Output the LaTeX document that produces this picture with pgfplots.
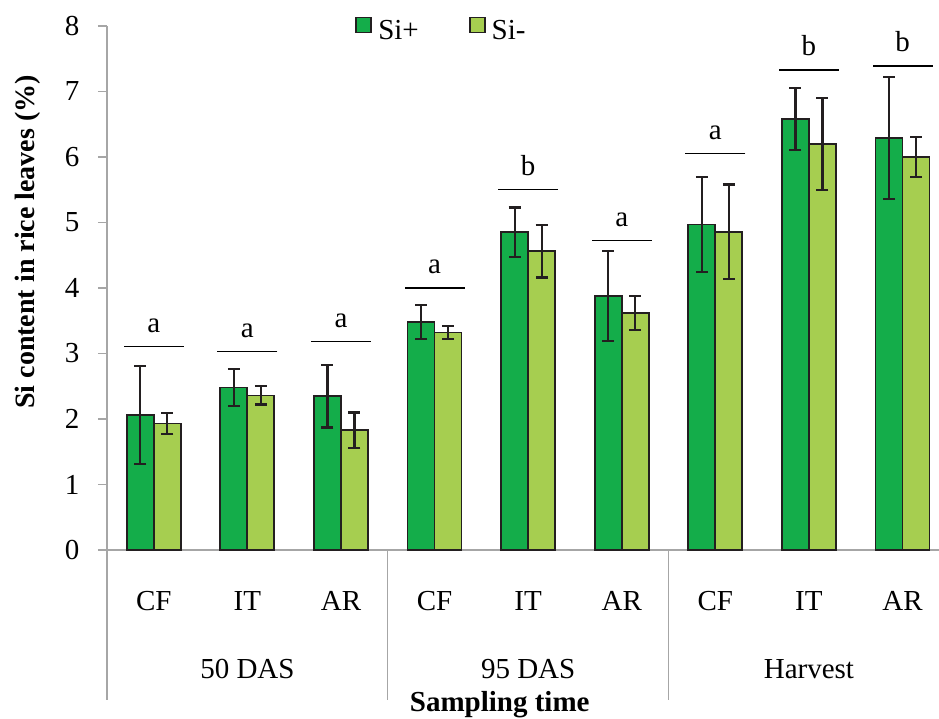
\documentclass[border=0pt]{standalone}
\usepackage{pgfplots}
\usepackage{pgfplotstable}
\pgfplotsset{compat=1.18}
\usepackage{fontspec}
\setmainfont{Liberation Serif}
\definecolor{siplus}{HTML}{14AD4A}
\definecolor{siminus}{HTML}{A6CE50}
\definecolor{edge}{HTML}{231F20}
\definecolor{axgray}{HTML}{A6A6A6}
\newcommand{\fs}{\fontsize{29}{33}\selectfont}

\pgfplotstableread{
x plus eplus minus eminus
0 2.06 0.75 1.93 0.16
1 2.48 0.28 2.36 0.14
2 2.35 0.48 1.83 0.27
3 3.48 0.26 3.32 0.10
4 4.85 0.38 4.56 0.40
5 3.88 0.69 3.62 0.26
6 4.97 0.73 4.86 0.72
7 6.58 0.47 6.20 0.70
8 6.29 0.93 6.00 0.30
}\data

\pgfplotstableread{
x y lab
0 3.11 a
1 3.03 a
2 3.18 a
3 4.00 a
4 5.50 b
5 4.73 a
6 6.05 a
7 7.33 b
8 7.39 b
}\sig

\begin{document}
\begin{tikzpicture}
\useasboundingbox (-107pt,-168pt) rectangle (832pt,550pt);
\clip (-107pt,-168pt) rectangle (832pt,550pt);
\begin{axis}[
  at={(0pt,0pt)}, anchor=south west,
  scale only axis, width=832pt, height=524pt,
  xmin=-0.5, xmax=8.39, ymin=0, ymax=8,
  ybar=0pt, bar width=27pt,
  axis x line*=bottom, axis y line*=left,
  axis line style={-, draw=axgray, line width=1.3pt},
  clip=false,
  ytick={0,1,...,8},
  tick align=outside,
  major tick length=9pt,
  y tick style={draw=axgray, line width=1.3pt},
  x tick style={draw=none},
  xtick={0,1,...,8},
  xticklabels={CF,IT,AR,CF,IT,AR,CF,IT,AR},
  /pgf/number format/assume math mode=true,
  xticklabel style={font=\fs, anchor=base, yshift=-51pt},
  yticklabel style={font=\fs, anchor=east, xshift=-15pt},
  extra x ticks={1,4,7},
  extra x tick labels={50 DAS,95 DAS,Harvest},
  extra x tick style={xticklabel style={yshift=-68pt}},
  xlabel={Sampling time},
  xlabel style={font=\fs\bfseries, at={(axis description cs:0.472,-0.309)}, anchor=base},
  ylabel={Si content in rice leaves (\%)},
  ylabel style={font=\fontsize{28}{32}\selectfont\bfseries, at={(axis description cs:-0.095,0.588)}, anchor=center},
  legend style={at={(axis description cs:0.402,0.993)}, anchor=center, draw=none, fill=none,
    font=\fs, legend columns=2,
    /tikz/every even column/.append style={column sep=48pt}},
  error bars/y dir=both, error bars/y explicit,
  error bars/error mark=-,
  error bars/error bar style={line width=2.2pt, draw=edge},
  error bars/error mark options={rotate=90, line width=2.2pt, mark size=6pt, draw=edge},
]
\addplot[fill=siplus, draw=edge, line width=1.8pt,
  legend image code/.code={\draw[fill=siplus, draw=edge, line width=1.8pt] (0pt,-2pt) rectangle (15pt,13pt); \path[draw=none, fill=none] (0pt,0pt) -- (20pt,0pt);}]
  table[x=x, y=plus, y error=eplus] {\data};
\addlegendentry{Si+}
\addplot[fill=siminus, draw=edge, line width=1.8pt,
  legend image code/.code={\draw[fill=siminus, draw=edge, line width=1.8pt] (0pt,-2pt) rectangle (15pt,13pt); \path[draw=none, fill=none] (0pt,0pt) -- (20pt,0pt);}]
  table[x=x, y=minus, y error=eminus] {\data};
\addlegendentry{Si-}
\draw[axgray, line width=1.3pt] (axis cs:-0.5,0) -- ++(0pt,-150pt);
\draw[axgray, line width=1.3pt] (axis cs:2.5,0) -- ++(0pt,-150pt);
\draw[axgray, line width=1.3pt] (axis cs:5.5,0) -- ++(0pt,-150pt);
\end{axis}
\begin{axis}[
  at={(0pt,0pt)}, anchor=south west,
  scale only axis, width=832pt, height=524pt,
  xmin=-0.5, xmax=8.39, ymin=0, ymax=8,
  hide axis, clip=false,
]
\addplot[only marks, mark=-, mark size=30pt, mark options={line width=1.3pt, draw=black},
  nodes near coords, point meta=explicit symbolic,
  nodes near coords style={font=\fs, anchor=base, yshift=14pt, text=black}]
  table[x=x, y=y, meta=lab] {\sig};
\end{axis}
\end{tikzpicture}
\end{document}
